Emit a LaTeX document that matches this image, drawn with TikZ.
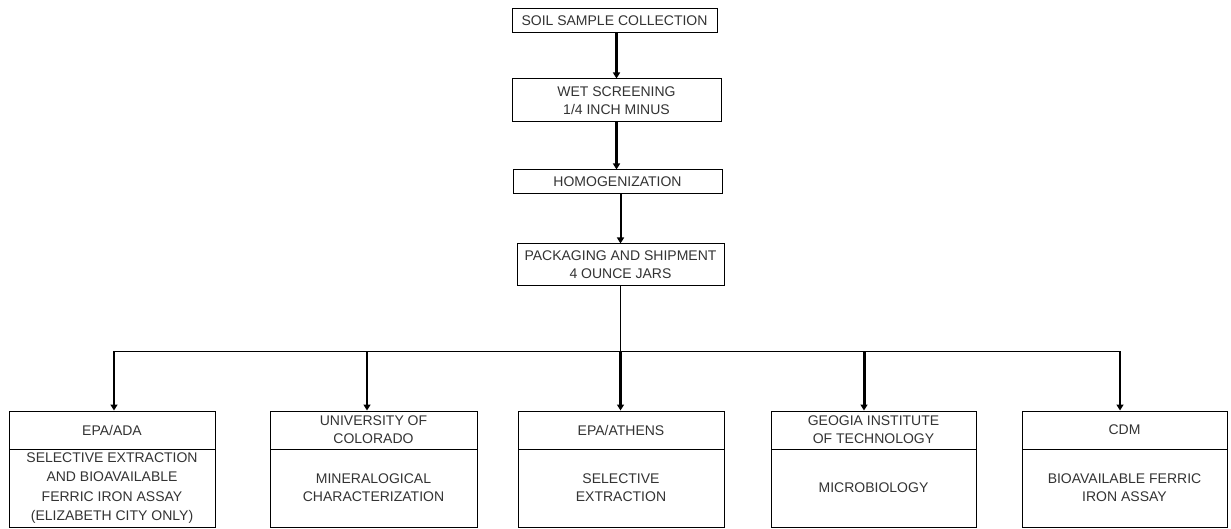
\documentclass[tikz,border=0pt]{standalone}
\usepackage{fontspec}
\setmainfont{Liberation Sans}
\usetikzlibrary{arrows.meta}
\begin{document}
\begin{tikzpicture}[x=1pt,y=-1pt,
  box/.style={draw=black, line width=1pt, inner sep=0pt, align=center,
    font=\fontsize{14}{18}\selectfont, text=black!80},
  head/.style={box, minimum height=38pt},
  body/.style={box, minimum height=78pt},
  flow/.style={-{Triangle[length=6pt,width=7pt]}, line width=#1},
  flow/.default=2.5pt,
  bus/.style={line width=1pt}]
\fill[white] (0,0) rectangle (1231,529);
\useasboundingbox (0,0) rectangle (1231,529);

% top chain
\node[box, minimum width=205pt, minimum height=24pt] (soil) at (614.5,21) {SOIL SAMPLE COLLECTION};
\node[box, minimum width=209pt, minimum height=43pt] (wet) at (616.5,100.5) {WET SCREENING\\1/4 INCH MINUS};
\node[box, minimum width=209pt, minimum height=24pt] (homo) at (617.5,182) {HOMOGENIZATION};
\node[box, minimum width=207pt, minimum height=42pt] (pack) at (620.5,265) {PACKAGING AND SHIPMENT\\4 OUNCE JARS};

\draw[flow=3pt] (wet.north |- soil.south) -- (wet.north);
\draw[flow=3pt] (wet.south) -- (wet.south |- homo.north);
\draw[flow=2pt] (pack.north |- homo.south) -- (pack.north);

% bottom boxes
\node[head, minimum width=206pt] (h1) at (112,430) {EPA/ADA};
\node[body, minimum width=206pt, font=\fontsize{14}{19.5}\selectfont] (b1) at (112,488) {SELECTIVE EXTRACTION\\AND BIOAVAILABLE\\FERRIC IRON ASSAY\\(ELIZABETH CITY ONLY)};
\node[head, minimum width=207pt] (h2) at (373.5,430) {UNIVERSITY OF\\COLORADO};
\node[body, minimum width=207pt] (b2) at (373.5,488) {MINERALOGICAL\\CHARACTERIZATION};
\node[head, minimum width=206pt] (h3) at (621,430) {EPA/ATHENS};
\node[body, minimum width=206pt] (b3) at (621,488) {SELECTIVE\\EXTRACTION};
\node[head, minimum width=205pt] (h4) at (873.5,430) {GEOGIA INSTITUTE\\OF TECHNOLOGY};
\node[body, minimum width=205pt] (b4) at (873.5,488) {MICROBIOLOGY};
\node[head, minimum width=205pt] (h5) at (1124.5,430) {CDM};
\node[body, minimum width=205pt] (b5) at (1124.5,488) {BIOAVAILABLE FERRIC\\IRON ASSAY};

% distribution bus
\coordinate (j1) at (114,351);
\coordinate (j2) at (367,351);
\coordinate (j4) at (864,351);
\coordinate (j5) at (1120,351);
\coordinate (j3) at (pack.south |- j1);

\draw[line width=1.6pt] (pack.south) -- (j3);
\draw[bus] (j1) -- (j5);
\draw[flow] (j1) -- (j1 |- h1.north);
\draw[flow] (j2) -- (j2 |- h2.north);
\draw[flow] (j3) -- (j3 |- h3.north);
\draw[flow=3pt] (j4) -- (j4 |- h4.north);
\draw[flow=2pt] (j5) -- (j5 |- h5.north);
\end{tikzpicture}
\end{document}
